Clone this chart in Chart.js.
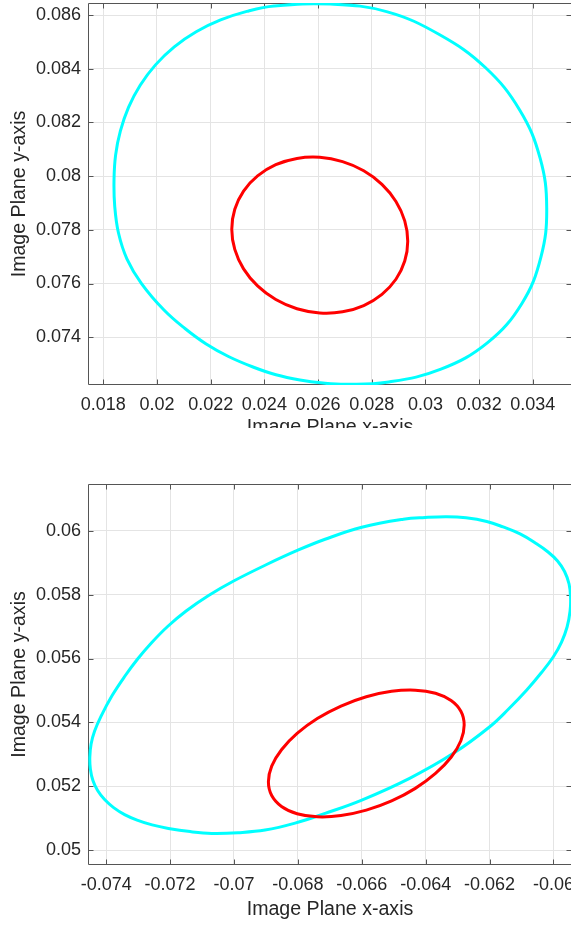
<!DOCTYPE html>
<html>
<head>
<meta charset="utf-8">
<script src="https://cdn.jsdelivr.net/npm/chart.js@4.4.1/dist/chart.umd.min.js"></script>
<style>
  body { margin: 0; background: #fff; width: 571px; height: 926px; overflow: hidden; position: relative; }
  .box { position: absolute; left: 0; width: 571px; overflow: hidden; }
  #topBox { top: 0; height: 428px; }
  #botBox { top: 440px; height: 486px; }
  canvas { display: block; }
</style>
</head>
<body>
<div class="box" id="topBox"><canvas id="topChart" width="576" height="460"></canvas></div>
<div class="box" id="botBox"><canvas id="botChart" width="576" height="486"></canvas></div>
<script>
// top panel: outer (cyan) and inner (red) contours
var topCyanX = [0.034518, 0.034302, 0.033594, 0.032328, 0.030577, 0.028559, 0.027065, 0.026182, 0.025326, 0.024432, 0.023575, 0.022663, 0.021832, 0.021043, 0.020261, 0.019423, 0.018883, 0.018566, 0.018425, 0.018399, 0.018458, 0.018637, 0.018939, 0.019374, 0.019944, 0.020644, 0.021460, 0.022369, 0.023345, 0.024361, 0.026458, 0.028551, 0.030533, 0.032242, 0.033516, 0.034272];
var topCyanY = [0.078816, 0.076987, 0.075259, 0.073806, 0.072808, 0.072320, 0.072246, 0.072294, 0.072406, 0.072600, 0.072890, 0.073281, 0.073747, 0.074324, 0.075013, 0.076000, 0.076912, 0.077881, 0.078886, 0.079858, 0.080782, 0.081683, 0.082559, 0.083385, 0.084145, 0.084816, 0.085378, 0.085818, 0.086138, 0.086339, 0.086410, 0.086130, 0.085266, 0.084037, 0.082458, 0.080670];
var topRedX = [0.029341, 0.029229, 0.028901, 0.028380, 0.027702, 0.026912, 0.026063, 0.025214, 0.024425, 0.023747, 0.023225, 0.022898, 0.022786, 0.022898, 0.023225, 0.023747, 0.024425, 0.025214, 0.026063, 0.026912, 0.027702, 0.028380, 0.028901, 0.029229];
var topRedY = [0.077579, 0.076838, 0.076160, 0.075598, 0.075181, 0.074946, 0.074905, 0.075061, 0.075404, 0.075911, 0.076547, 0.077270, 0.078026, 0.078767, 0.079445, 0.080007, 0.080425, 0.080659, 0.080700, 0.080540, 0.080201, 0.079695, 0.079058, 0.078335];

// bottom panel
var botCyanX = [-0.063340, -0.064019, -0.064698, -0.066000, -0.067149, -0.067984, -0.068995, -0.069997, -0.070795, -0.071499, -0.072078, -0.072573, -0.073017, -0.073424, -0.073815, -0.074160, -0.074363, -0.074473, -0.074513, -0.074495, -0.074416, -0.074269, -0.074050, -0.073768, -0.073424, -0.073033, -0.072563, -0.072053, -0.071374, -0.070695, -0.069872, -0.069027, -0.068088, -0.067149, -0.066000, -0.064488, -0.063133, -0.061994, -0.061390, -0.060836, -0.060388, -0.060003, -0.059747, -0.059574, -0.059480, -0.059465, -0.059512, -0.059653, -0.059872, -0.060169, -0.060545, -0.061045, -0.061577, -0.062088, -0.062736];
var botCyanY = [0.060438, 0.060413, 0.060357, 0.060106, 0.059731, 0.059396, 0.058933, 0.058432, 0.057972, 0.057487, 0.057002, 0.056501, 0.055984, 0.055437, 0.054842, 0.054200, 0.053731, 0.053324, 0.052917, 0.052541, 0.052182, 0.051869, 0.051587, 0.051336, 0.051117, 0.050945, 0.050795, 0.050685, 0.050585, 0.050529, 0.050551, 0.050632, 0.050851, 0.051155, 0.051571, 0.052260, 0.053033, 0.053865, 0.054435, 0.055014, 0.055546, 0.056056, 0.056516, 0.056986, 0.057487, 0.057925, 0.058332, 0.058723, 0.059052, 0.059333, 0.059599, 0.059897, 0.060116, 0.060288, 0.060404];
var botRedX = [-0.062795, -0.062898, -0.063205, -0.063693, -0.064325, -0.065067, -0.065859, -0.066651, -0.067393, -0.068025, -0.068513, -0.068820, -0.068923, -0.068820, -0.068513, -0.068025, -0.067393, -0.066651, -0.065859, -0.065067, -0.064325, -0.063693, -0.063205, -0.062898];
var botRedY = [0.053919, 0.053427, 0.052911, 0.052404, 0.051937, 0.051543, 0.051255, 0.051086, 0.051048, 0.051145, 0.051371, 0.051712, 0.052141, 0.052632, 0.053146, 0.053656, 0.054122, 0.054513, 0.054804, 0.054974, 0.055011, 0.054914, 0.054686, 0.054348];

// ticks
var topXTicks = [0.018, 0.020, 0.022, 0.024, 0.026, 0.028, 0.030, 0.032, 0.034];
var topXLabels = ['0.018', '0.02', '0.022', '0.024', '0.026', '0.028', '0.03', '0.032', '0.034'];
var topYTicks = [0.074, 0.076, 0.078, 0.080, 0.082, 0.084, 0.086];
var topYLabels = ['0.074', '0.076', '0.078', '0.08', '0.082', '0.084', '0.086'];
var botXTicks = [-0.074, -0.072, -0.070, -0.068, -0.066, -0.064, -0.062, -0.060];
var botXLabels = ['-0.074', '-0.072', '-0.07', '-0.068', '-0.066', '-0.064', '-0.062', '-0.06'];
var botYTicks = [0.050, 0.052, 0.054, 0.056, 0.058, 0.060];
var botYLabels = ['0.05', '0.052', '0.054', '0.056', '0.058', '0.06'];

var FONT = '"Liberation Sans", Arial, Helvetica, sans-serif';
var TEXT = '#262626';
var AXIS = '#555555';
var GRID = '#e4e4e4';

// box round the plot with inward tick marks on all four sides
var boxPlugin = {
  id: 'matlabBox',
  beforeDatasetsDraw: function(chart) {
    var a = chart.chartArea, ctx = chart.ctx;
    var xs = chart.scales.x, ys = chart.scales.y;
    var l = Math.round(a.left) + 0.5, r = Math.round(a.right) - 0.5;
    var t = Math.round(a.top) + 0.5, b = Math.round(a.bottom) - 0.5;
    ctx.save();
    ctx.strokeStyle = AXIS;
    ctx.lineWidth = 1;
    ctx.beginPath();
    ctx.rect(l, t, r - l, b - t);
    xs.ticks.forEach(function(tk) {
      var p = Math.round(xs.getPixelForValue(tk.value)) + 0.5;
      ctx.moveTo(p, b); ctx.lineTo(p, b - 5);
      ctx.moveTo(p, t); ctx.lineTo(p, t + 5);
    });
    ys.ticks.forEach(function(tk) {
      var p = Math.round(ys.getPixelForValue(tk.value)) + 0.5;
      ctx.moveTo(l, p); ctx.lineTo(l + 5, p);
      ctx.moveTo(r, p); ctx.lineTo(r - 5, p);
    });
    ctx.stroke();
    ctx.restore();
  }
};

// treat every line as a closed loop so the spline joins smoothly
var closeLoop = {
  id: 'closeLoop',
  afterDatasetUpdate: function(chart, args) {
    var line = args.meta.dataset;
    if (!line) return;
    line._loop = true;
    line._fullLoop = true;
    line._pointsUpdated = false;
    delete line._segments;
    delete line._path;
  }
};

function axis(isX, min, max, ticks, labels, title, size, titlePad) {
  return {
    type: 'linear',
    position: isX ? 'bottom' : 'left',
    min: min,
    max: max,
    afterBuildTicks: function(s) {
      s.ticks = ticks.map(function(v) { return { value: v }; });
    },
    afterFit: function(s) {
      if (isX) s.height = size; else s.width = size;
      s.paddingLeft = 0; s.paddingRight = 0; s.paddingTop = 0; s.paddingBottom = 0;
    },
    grid: { color: GRID, lineWidth: 1, drawTicks: false },
    border: { display: false },
    ticks: {
      autoSkip: false, maxRotation: 0, minRotation: 0,
      padding: isX ? 9 : 7,
      color: TEXT,
      font: { family: FONT, size: 18 },
      callback: function(v, i) { return labels[i]; }
    },
    title: {
      display: true, text: title, color: TEXT,
      font: { family: FONT, size: 19.6 },
      padding: isX ? { top: 0, bottom: titlePad } : { top: titlePad, bottom: 0 }
    }
  };
}

function curve(xs, ys, color) {
  var pts = xs.map(function(x, i) { return { x: x, y: ys[i] }; });
  return { data: pts, borderColor: color, backgroundColor: color, borderWidth: 3, showLine: true, pointRadius: 0, tension: 0.4, fill: false };
}

function makeChart(id, datasets, xAxis, yAxis, padTop) {
  return new Chart(document.getElementById(id).getContext('2d'), {
    type: 'scatter',
    data: { datasets: datasets },
    options: {
      responsive: false,
      animation: false,
      devicePixelRatio: 1,
      events: [],
      layout: { padding: { left: 0, right: 4, top: padTop, bottom: 0 } },
      plugins: { legend: { display: false }, tooltip: { enabled: false } },
      scales: { x: xAxis, y: yAxis }
    },
    plugins: [boxPlugin, closeLoop]
  });
}

makeChart('topChart',
  [curve(topRedX, topRedY, '#ff0000'), curve(topCyanX, topCyanY, '#00ffff')],
  axis(true, 0.01743, 0.03546, topXTicks, topXLabels, 'Image Plane x-axis', 75, 20.2),
  axis(false, 0.07222, 0.08645, topYTicks, topYLabels, 'Image Plane y-axis', 88, 8.2),
  3);

makeChart('botChart',
  [curve(botRedX, botRedY, '#ff0000'), curve(botCyanX, botCyanY, '#00ffff')],
  axis(true, -0.07457, -0.05942, botXTicks, botXLabels, 'Image Plane x-axis', 61, 4.7),
  axis(false, 0.04954, 0.06146, botYTicks, botYLabels, 'Image Plane y-axis', 88, 8.2),
  44);
</script>
</body>
</html>
